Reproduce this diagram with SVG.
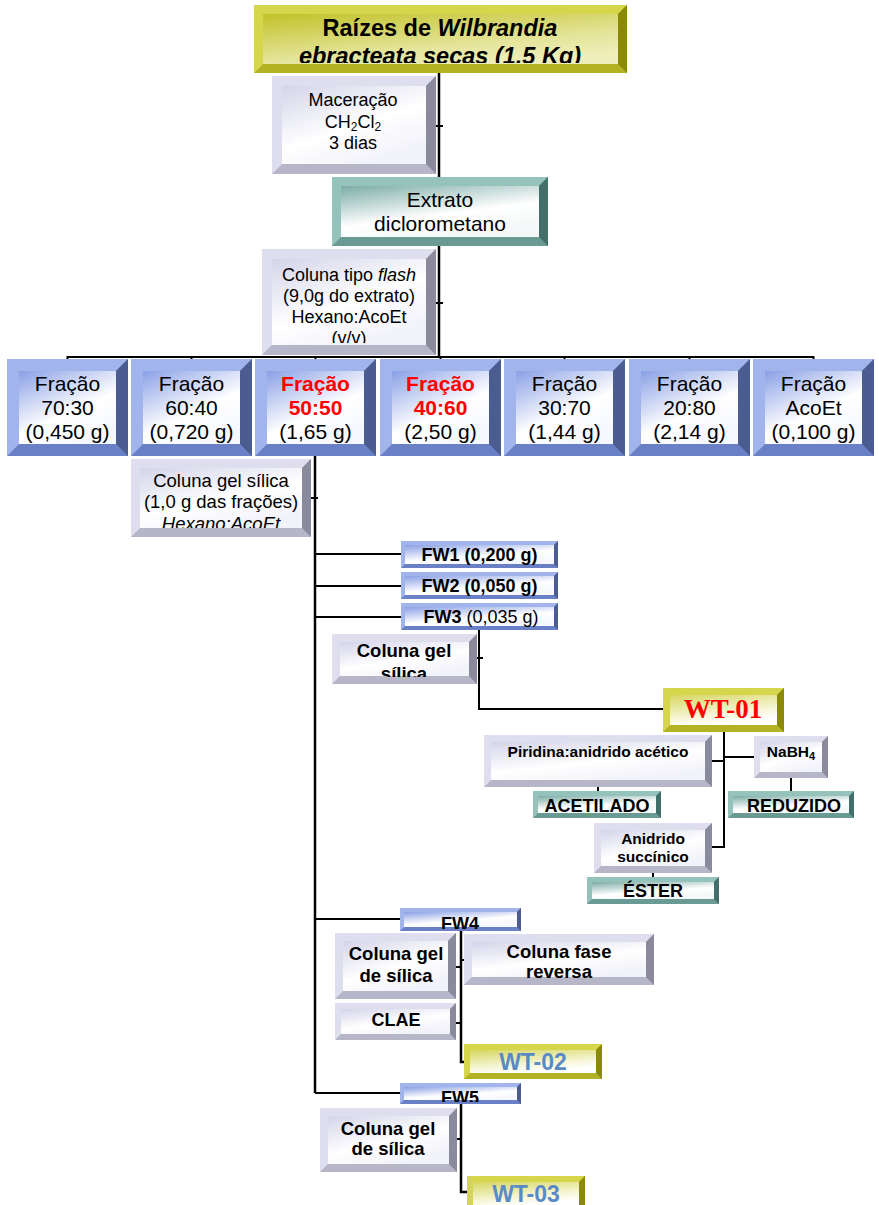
<svg xmlns="http://www.w3.org/2000/svg" xmlns:xlink="http://www.w3.org/1999/xlink" width="879" height="1205" viewBox="0 0 879 1205">
<style>
text{font-family:"Liberation Sans",Arial,sans-serif;text-anchor:middle;fill:#000}
.b{font-weight:bold}
.red{fill:#ff0000}
.wt{fill:#5a8ac6}
.serif{font-family:"Liberation Serif","Times New Roman",serif}
.con{stroke:#000;stroke-width:2;fill:none}
.trunk{stroke:#000;stroke-width:2.5;fill:none}
.yB{fill:#b2b224}.yL{fill:#d6d64c}.yR{fill:#8a8a06}.yI{fill:url(#gY)}.yI2{fill:url(#gY2)}
.lB{fill:#b6b6c8}.lL{fill:#dedeee}.lR{fill:#8a8a9c}.lI{fill:url(#gL)}
.tB{fill:#6a9a94}.tL{fill:#96c2bc}.tR{fill:#436f6a}.tI{fill:url(#gT)}
.uB{fill:#6a80c6}.uL{fill:#a2b4ec}.uR{fill:#4a5c90}.uI{fill:url(#gU)}
</style>
<defs>
<linearGradient id="gY" x1="0" y1="0" x2="0.6" y2="1"><stop offset="0" stop-color="#c2c22a"/><stop offset="0.7" stop-color="#e4e49a"/><stop offset="1" stop-color="#eeeeb8"/></linearGradient>
<linearGradient id="gY2" x1="0" y1="0" x2="0.4" y2="1"><stop offset="0" stop-color="#d6d660"/><stop offset="0.7" stop-color="#f6f6d8"/><stop offset="1" stop-color="#ffffff"/></linearGradient>
<linearGradient id="gL" x1="0" y1="0" x2="0.6" y2="1"><stop offset="0" stop-color="#d4d4ea"/><stop offset="0.6" stop-color="#ffffff"/><stop offset="1" stop-color="#f2f2fa"/></linearGradient>
<linearGradient id="gT" x1="0" y1="0" x2="0.5" y2="1"><stop offset="0" stop-color="#7caca6"/><stop offset="0.65" stop-color="#ffffff"/><stop offset="1" stop-color="#f4f8f8"/></linearGradient>
<linearGradient id="gU" x1="0" y1="0" x2="0.6" y2="1"><stop offset="0" stop-color="#8aa0e6"/><stop offset="0.65" stop-color="#ffffff"/><stop offset="1" stop-color="#f6f8ff"/></linearGradient>
<g id="fracBox">
<rect x="0" y="0" width="121" height="97" class="uB"/>
<polygon class="uL" points="0,0 121,0 109,12 12,12 12,85 0,97"/>
<polygon class="uR" points="121,0 121,97 109,85 109,12"/>
<rect x="12" y="12" width="97" height="73" class="uI"/>
</g>
<g id="fwBox">
<rect x="0" y="0" width="157" height="27" class="uB"/>
<polygon class="uL" points="0,0 157,0 153,4 4,4 4,23 0,27"/>
<polygon class="uR" points="157,0 157,27 153,23 153,4"/>
<rect x="4" y="4" width="149" height="19" class="uI"/>
</g>
<clipPath id="cTop" clipPathUnits="userSpaceOnUse"><rect x="263" y="10" width="355" height="53"/></clipPath>
<clipPath id="cFlash" clipPathUnits="userSpaceOnUse"><rect x="272" y="255" width="154" height="88"/></clipPath>
<clipPath id="cCG" clipPathUnits="userSpaceOnUse"><rect x="140" y="465" width="162" height="63"/></clipPath>
<clipPath id="cCG2" clipPathUnits="userSpaceOnUse"><rect x="340" y="640" width="129" height="37"/></clipPath>
<clipPath id="cFW4" clipPathUnits="userSpaceOnUse"><rect x="404" y="908" width="113" height="21"/></clipPath>
<clipPath id="cFW5" clipPathUnits="userSpaceOnUse"><rect x="404" y="1083" width="113" height="19"/></clipPath>
</defs>

<g id="connectors">
<path class="trunk" d="M439,73 V357"/>
<path class="con" d="M436,126 H443 M436,303 H443"/>
<path class="con" d="M67,357 H814"/>
<path class="con" d="M67.5,356 V359 M191.5,356 V359 M315.5,356 V359 M440.5,356 V359 M564.5,356 V359 M689.5,356 V359 M813.5,356 V359"/>
<path class="trunk" d="M315,456 V1093"/>
<path class="con" d="M311,498 H318"/>
<path class="con" d="M315,554 H401 M315,586 H401 M315,617 H401"/>
<path class="con" d="M479,630 V709 H663"/>
<path class="con" d="M477,658 H483"/>
<path class="con" d="M724,732 V847 H712"/>
<path class="con" d="M712,761 H724 M724,757 H754"/>
<path class="con" d="M598,787 V791 M791,778 V791 M653,873 V877"/>
<path class="con" d="M315,919 H400"/>
<path class="trunk" d="M461,931 V1062 H464"/>
<path class="con" d="M456,967 H461 M461,960 H465 M456,1023 H461"/>
<path class="con" d="M315,1093 H400"/>
<path class="trunk" d="M461,1104 V1192 H467"/>
<path class="con" d="M457,1139 H461"/>
</g>

<g id="n-raizes">
<rect x="254" y="5" width="373" height="68" class="yB"/>
<polygon class="yL" points="254,5 627,5 618,14 263,14 263,64 254,73"/>
<polygon class="yR" points="627,5 627,73 618,64 618,14"/>
<rect x="263" y="14" width="355" height="50" class="yI"/>
<g clip-path="url(#cTop)">
<text x="440" y="36" class="b" font-size="23.5">Raízes de <tspan font-style="italic">Wilbrandia</tspan></text>
<text x="440" y="64" class="b" font-size="23.5" font-style="italic">ebracteata secas (1,5 Kg)</text>
</g>
</g>

<g id="n-maceracao">
<rect x="272" y="76" width="164" height="98" class="lB"/>
<polygon class="lL" points="272,76 436,76 426,86 282,86 282,164 272,174"/>
<polygon class="lR" points="436,76 436,174 426,164 426,86"/>
<rect x="282" y="86" width="144" height="78" class="lI"/>
<text x="353" y="106" font-size="18">Maceração</text>
<text x="353" y="128" font-size="18">CH<tspan font-size="12" dy="3">2</tspan><tspan dy="-3">Cl</tspan><tspan font-size="12" dy="3">2</tspan></text>
<text x="353" y="149" font-size="18">3 dias</text>
</g>

<g id="n-extrato">
<rect x="332" y="177" width="216" height="69" class="tB"/>
<polygon class="tL" points="332,177 548,177 539,186 341,186 341,237 332,246"/>
<polygon class="tR" points="548,177 548,246 539,237 539,186"/>
<rect x="341" y="186" width="198" height="51" class="tI"/>
<text x="440" y="207" font-size="21">Extrato</text>
<text x="440" y="231" font-size="21">diclorometano</text>
</g>

<g id="n-flash">
<rect x="262" y="249" width="174" height="106" class="lB"/>
<polygon class="lL" points="262,249 436,249 426,259 272,259 272,345 262,355"/>
<polygon class="lR" points="436,249 436,355 426,345 426,259"/>
<rect x="272" y="259" width="154" height="86" class="lI"/>
<g clip-path="url(#cFlash)">
<text x="349" y="281" font-size="18">Coluna tipo <tspan font-style="italic">flash</tspan></text>
<text x="349" y="302" font-size="18">(9,0g do extrato)</text>
<text x="349" y="323" font-size="18">Hexano:AcoEt</text>
<text x="349" y="344" font-size="18">(v/v)</text>
</g>
</g>

<g id="n-f7030">
<use xlink:href="#fracBox" x="7" y="359"/>
<text x="67.5" y="391" font-size="21">Fração</text>
<text x="67.5" y="415" font-size="21">70:30</text>
<text x="67.5" y="439" font-size="21">(0,450 g)</text>
</g>
<g id="n-f6040">
<use xlink:href="#fracBox" x="131" y="359"/>
<text x="191.5" y="391" font-size="21">Fração</text>
<text x="191.5" y="415" font-size="21">60:40</text>
<text x="191.5" y="439" font-size="21">(0,720 g)</text>
</g>
<g id="n-f5050">
<use xlink:href="#fracBox" x="255" y="359"/>
<text x="315.5" y="391" font-size="21" class="b red">Fração</text>
<text x="315.5" y="415" font-size="21" class="b red">50:50</text>
<text x="315.5" y="439" font-size="21">(1,65 g)</text>
</g>
<g id="n-f4060">
<use xlink:href="#fracBox" x="380" y="359"/>
<text x="440.5" y="391" font-size="21" class="b red">Fração</text>
<text x="440.5" y="415" font-size="21" class="b red">40:60</text>
<text x="440.5" y="439" font-size="21">(2,50 g)</text>
</g>
<g id="n-f3070">
<use xlink:href="#fracBox" x="504" y="359"/>
<text x="564.5" y="391" font-size="21">Fração</text>
<text x="564.5" y="415" font-size="21">30:70</text>
<text x="564.5" y="439" font-size="21">(1,44 g)</text>
</g>
<g id="n-f2080">
<use xlink:href="#fracBox" x="629" y="359"/>
<text x="689.5" y="391" font-size="21">Fração</text>
<text x="689.5" y="415" font-size="21">20:80</text>
<text x="689.5" y="439" font-size="21">(2,14 g)</text>
</g>
<g id="n-facoet">
<use xlink:href="#fracBox" x="753" y="359"/>
<text x="813.5" y="391" font-size="21">Fração</text>
<text x="813.5" y="415" font-size="21">AcoEt</text>
<text x="813.5" y="439" font-size="21">(0,100 g)</text>
</g>

<g id="n-colgel">
<rect x="131" y="459" width="180" height="78" class="lB"/>
<polygon class="lL" points="131,459 311,459 302,468 140,468 140,528 131,537"/>
<polygon class="lR" points="311,459 311,537 302,528 302,468"/>
<rect x="140" y="468" width="162" height="60" class="lI"/>
<g clip-path="url(#cCG)">
<text x="221" y="487" font-size="18.5">Coluna gel sílica</text>
<text x="221" y="508" font-size="18.5">(1,0 g das frações)</text>
<text x="221" y="530" font-size="18.5" font-style="italic">Hexano:AcoEt</text>
</g>
</g>

<g id="n-fw1">
<use xlink:href="#fwBox" x="401" y="541"/>
<text x="479.5" y="561" font-size="18" class="b">FW1 (0,200 g)</text>
</g>
<g id="n-fw2">
<use xlink:href="#fwBox" x="401" y="572"/>
<text x="479.5" y="592" font-size="18" class="b">FW2 (0,050 g)</text>
</g>
<g id="n-fw3">
<use xlink:href="#fwBox" x="401" y="603"/>
<text x="481" y="623" font-size="18"><tspan class="b">FW3</tspan> (0,035 g)</text>
</g>

<g id="n-colgel2">
<rect x="332" y="634" width="145" height="50" class="lB"/>
<polygon class="lL" points="332,634 477,634 469,642 340,642 340,676 332,684"/>
<polygon class="lR" points="477,634 477,684 469,676 469,642"/>
<rect x="340" y="642" width="129" height="34" class="lI"/>
<g clip-path="url(#cCG2)">
<text x="404" y="657" font-size="18.5" class="b">Coluna gel</text>
<text x="404" y="680" font-size="18.5" class="b">sílica</text>
</g>
</g>

<g id="n-wt01">
<rect x="663" y="688" width="121" height="44" class="yB"/>
<polygon class="yL" points="663,688 784,688 777,695 670,695 670,725 663,732"/>
<polygon class="yR" points="784,688 784,732 777,725 777,695"/>
<rect x="670" y="695" width="107" height="30" class="yI2"/>
<text x="723" y="718" font-size="27" class="b serif red">WT-01</text>
</g>

<g id="n-piridina">
<rect x="484" y="735" width="228" height="52" class="lB"/>
<polygon class="lL" points="484,735 712,735 705,742 491,742 491,780 484,787"/>
<polygon class="lR" points="712,735 712,787 705,780 705,742"/>
<rect x="491" y="742" width="214" height="38" class="lI"/>
<text x="598" y="757" font-size="15.5" class="b">Piridina:anidrido acético</text>
</g>

<g id="n-acetilado">
<rect x="533" y="791" width="128" height="27" class="tB"/>
<polygon class="tL" points="533,791 661,791 656,796 538,796 538,813 533,818"/>
<polygon class="tR" points="661,791 661,818 656,813 656,796"/>
<rect x="538" y="796" width="118" height="17" class="tI"/>
<text x="597" y="812" font-size="18" class="b">ACETILADO</text>
</g>

<g id="n-nabh4">
<rect x="754" y="736" width="74" height="42" class="lB"/>
<polygon class="lL" points="754,736 828,736 822,742 760,742 760,772 754,778"/>
<polygon class="lR" points="828,736 828,778 822,772 822,742"/>
<rect x="760" y="742" width="62" height="30" class="lI"/>
<text x="791" y="757" font-size="15.5" class="b">NaBH<tspan font-size="11" dy="3">4</tspan></text>
</g>

<g id="n-reduzido">
<rect x="728" y="791" width="126" height="27" class="tB"/>
<polygon class="tL" points="728,791 854,791 849,796 733,796 733,813 728,818"/>
<polygon class="tR" points="854,791 854,818 849,813 849,796"/>
<rect x="733" y="796" width="116" height="17" class="tI"/>
<text x="794" y="812" font-size="18" class="b">REDUZIDO</text>
</g>

<g id="n-anidrido">
<rect x="594" y="823" width="118" height="50" class="lB"/>
<polygon class="lL" points="594,823 712,823 705,830 601,830 601,866 594,873"/>
<polygon class="lR" points="712,823 712,873 705,866 705,830"/>
<rect x="601" y="830" width="104" height="36" class="lI"/>
<text x="653" y="844" font-size="15.5" class="b">Anidrido</text>
<text x="653" y="862" font-size="15.5" class="b">succínico</text>
</g>

<g id="n-ester">
<rect x="587" y="877" width="132" height="27" class="tB"/>
<polygon class="tL" points="587,877 719,877 714,882 592,882 592,899 587,904"/>
<polygon class="tR" points="719,877 719,904 714,899 714,882"/>
<rect x="592" y="882" width="122" height="17" class="tI"/>
<text x="653" y="897" font-size="18" class="b">ÉSTER</text>
</g>

<g id="n-fw4">
<rect x="400" y="908" width="121" height="23" class="uB"/>
<polygon class="uL" points="400,908 521,908 517,912 404,912 404,927 400,931"/>
<polygon class="uR" points="521,908 521,931 517,927 517,912"/>
<rect x="404" y="912" width="113" height="15" class="uI"/>
<g clip-path="url(#cFW4)"><text x="460" y="930" font-size="18" class="b">FW4</text></g>
</g>

<g id="n-colgel4">
<rect x="335" y="933" width="121" height="66" class="lB"/>
<polygon class="lL" points="335,933 456,933 448,941 343,941 343,991 335,999"/>
<polygon class="lR" points="456,933 456,999 448,991 448,941"/>
<rect x="343" y="941" width="105" height="50" class="lI"/>
<text x="396" y="960" font-size="18.5" class="b">Coluna gel</text>
<text x="396" y="982" font-size="18.5" class="b">de sílica</text>
</g>

<g id="n-fasereversa">
<rect x="464" y="934" width="190" height="51" class="lB"/>
<polygon class="lL" points="464,934 654,934 646,942 472,942 472,977 464,985"/>
<polygon class="lR" points="654,934 654,985 646,977 646,942"/>
<rect x="472" y="942" width="174" height="35" class="lI"/>
<text x="559" y="958" font-size="18.5" class="b">Coluna fase</text>
<text x="559" y="978" font-size="18.5" class="b">reversa</text>
</g>

<g id="n-clae">
<rect x="335" y="1003" width="121" height="37" class="lB"/>
<polygon class="lL" points="335,1003 456,1003 450,1009 341,1009 341,1034 335,1040"/>
<polygon class="lR" points="456,1003 456,1040 450,1034 450,1009"/>
<rect x="341" y="1009" width="109" height="25" class="lI"/>
<text x="396" y="1026" font-size="18" class="b">CLAE</text>
</g>

<g id="n-wt02">
<rect x="464" y="1044" width="138" height="35" class="yB"/>
<polygon class="yL" points="464,1044 602,1044 596,1050 470,1050 470,1073 464,1079"/>
<polygon class="yR" points="602,1044 602,1079 596,1073 596,1050"/>
<rect x="470" y="1050" width="126" height="23" class="yI2"/>
<text x="533" y="1070" font-size="23" class="b wt">WT-02</text>
</g>

<g id="n-fw5">
<rect x="400" y="1083" width="121" height="21" class="uB"/>
<polygon class="uL" points="400,1083 521,1083 517,1087 404,1087 404,1100 400,1104"/>
<polygon class="uR" points="521,1083 521,1104 517,1100 517,1087"/>
<rect x="404" y="1087" width="113" height="13" class="uI"/>
<g clip-path="url(#cFW5)"><text x="460" y="1104" font-size="18" class="b">FW5</text></g>
</g>

<g id="n-colgel5">
<rect x="320" y="1108" width="137" height="64" class="lB"/>
<polygon class="lL" points="320,1108 457,1108 449,1116 328,1116 328,1164 320,1172"/>
<polygon class="lR" points="457,1108 457,1172 449,1164 449,1116"/>
<rect x="328" y="1116" width="121" height="48" class="lI"/>
<text x="388" y="1135" font-size="18.5" class="b">Coluna gel</text>
<text x="388" y="1155" font-size="18.5" class="b">de sílica</text>
</g>

<g id="n-wt03">
<rect x="467" y="1176" width="118" height="36" class="yB"/>
<polygon class="yL" points="467,1176 585,1176 579,1182 473,1182 473,1206 467,1212"/>
<polygon class="yR" points="585,1176 585,1212 579,1206 579,1182"/>
<rect x="473" y="1182" width="106" height="24" class="yI2"/>
<text x="526" y="1202" font-size="23" class="b wt">WT-03</text>
</g>
</svg>
